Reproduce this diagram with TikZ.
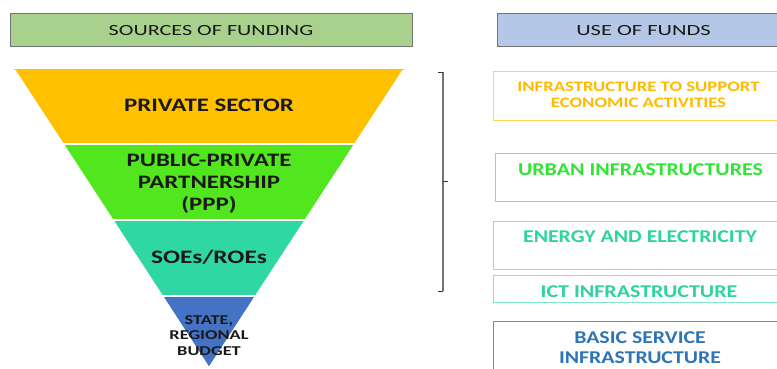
\documentclass[tikz,border=0pt]{standalone}
\usepackage{fontspec}
\usepackage{graphicx}
\setmainfont{Carlito}
% widen a (possibly multi-line) label horizontally
\newcommand{\hstretch}[2]{\scalebox{#1}[1]{\begin{tabular}{@{}c@{}}#2\end{tabular}}}
\begin{document}
\begin{tikzpicture}[x=1pt,y=-1pt,
  hdr/.style={draw=black!55,line width=1pt,minimum height=33pt},
  hdrtext/.style={font=\fontsize{15.5}{18}\selectfont,text=black!90,inner sep=0pt,yshift=-2.5pt},
  band/.style={draw=white,line width=1.6pt},
  bandtext/.style={font=\bfseries\fontsize{19}{22}\selectfont,text=black!90,inner sep=0pt,yshift=-2.5pt},
  usebox/.style={line width=1pt,fill=white},
  usetext/.style={font=\bfseries\fontsize{18}{20}\selectfont,inner sep=0pt,yshift=-2.5pt}]
\definecolor{hdrgreen}{HTML}{A9D18E}
\definecolor{hdrblue}{HTML}{B4C7E7}
\definecolor{privcol}{HTML}{FFC000}
\definecolor{pppcol}{HTML}{52E61E}
\definecolor{soecol}{HTML}{2FD8A3}
\definecolor{statecol}{HTML}{4472C4}
\definecolor{inftext}{HTML}{FFBA00}
\definecolor{urbtext}{HTML}{2EE632}
\definecolor{urbline}{HTML}{7CEE74}
\definecolor{engtext}{HTML}{2ED3A0}
\definecolor{engline}{HTML}{80E6C8}
\definecolor{bastext}{HTML}{2E75B6}
\definecolor{basline}{HTML}{5B8FCF}
\definecolor{infline}{HTML}{FFD250}
\useasboundingbox (0,0) rectangle (777,368);
\clip (0,0) rectangle (777,368);

% column headers
\node[hdr,fill=hdrgreen,minimum width=402pt] (srchdr) at (211,29.5) {};
\node[hdrtext] (srctxt) at (srchdr.center) {\hstretch{1.43}{SOURCES OF FUNDING}};
\node[hdr,fill=hdrblue,minimum width=300pt,anchor=west] (usehdr) at (497,29.5) {};
\node[hdrtext] (usetxt) at (643.5,29.5) {\hstretch{1.45}{USE OF FUNDS}};

% funding funnel, widest band on top
\fill[privcol,band] (14,69) -- (404,69) -- (355,144) -- (63,144) -- cycle;
\fill[pppcol,band] (63,144) -- (355,144) -- (305.4,220) -- (112.6,220) -- cycle;
\fill[soecol,band] (112.6,220) -- (305.4,220) -- (255.8,296) -- (162.2,296) -- cycle;
\fill[statecol,band] (162.2,296) -- (255.8,296) -- (209,368) -- cycle;
\draw[privcol,line width=0.3pt] (14,69) -- (404,69);

\node[bandtext] (priv) at (209,105) {\hstretch{1.31}{PRIVATE SECTOR}};
\node[bandtext] (ppp) at (209,182) {\hstretch{1.31}{PUBLIC-PRIVATE\\PARTNERSHIP\\(PPP)}};
\node[bandtext] (soe) at (209,257) {\hstretch{1.33}{SOEs/ROEs}};
\node[bandtext,font=\bfseries\fontsize{13.5}{15.5}\selectfont] (state) at (209,334)
  {\hstretch{1.36}{STATE,\\REGIONAL\\BUDGET}};

% bracket linking the funnel to the uses
\coordinate (brtop) at (443,72);
\coordinate (brbot) at (443,291);
\coordinate (brmid) at (443,181);
\draw[black!55,line width=1.5pt] (brtop) -- (brbot);
\draw[black!80,line width=0.8pt] (brtop) -- ++(-5,0);
\draw[black!80,line width=0.8pt] (brbot) -- ++(-5,0);
\draw[black!80,line width=0.8pt] (brmid) -- ++(5,0);

% uses of funds
\draw[usebox,draw=infline] (493,71) rectangle (790,120);
\node[usetext,font=\bfseries\fontsize{14.5}{16}\selectfont,text=inftext] (inf) at (638.5,94)
  {\hstretch{1.29}{INFRASTRUCTURE TO SUPPORT\\ECONOMIC ACTIVITIES}};
\draw[usebox,draw=urbline] (495,153) rectangle (790,201);
\node[usetext,text=urbtext] (urb) at (640.5,169) {\hstretch{1.22}{URBAN INFRASTRUCTURES}};
\draw[usebox,draw=engline] (493,221) rectangle (790,269);
\node[usetext,text=engtext] (eng) at (640,236) {\hstretch{1.21}{ENERGY AND ELECTRICITY}};
\draw[usebox,draw=engline] (493,275) rectangle (790,302);
\node[usetext,text=engtext] (ict) at (639,290.5) {\hstretch{1.22}{ICT INFRASTRUCTURE}};
\draw[usebox,draw=basline] (493,321) rectangle (790,380);
\node[usetext,text=bastext] (bas) at (640,347) {\hstretch{1.21}{BASIC SERVICE\\INFRASTRUCTURE}};
\end{tikzpicture}
\end{document}
